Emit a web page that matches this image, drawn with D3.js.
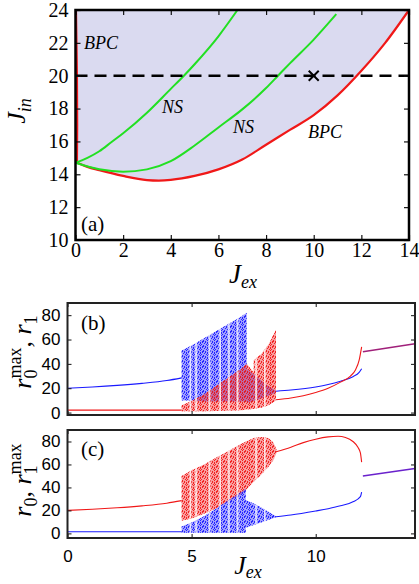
<!DOCTYPE html>
<html>
<head>
<meta charset="utf-8">
<script src="https://cdn.jsdelivr.net/npm/d3@7"></script>
<style>
  body { margin: 0; background: #fff; }
  svg { display: block; }
</style>
</head>
<body>
<svg id="fig" width="419" height="584"></svg>
<script>
// ---- panel (a): bifurcation curves in the (J_ex, J_in) plane
const bpcLeft = [[0.06, 14.7], [0.07, 17], [0.06, 20], [0.04, 22], [0.02, 24]];
const bpcLower = [[0.06, 14.7], [0.5, 14.45], [1, 14.25], [2, 13.9], [3, 13.65], [3.5, 13.62], [4, 13.66],
  [5, 13.9], [6, 14.3], [7, 14.9], [8, 15.8], [9, 16.7], [10, 17.6], [11, 18.8], [12, 20.3], [13, 22.0], [14, 24.0]];
const nsLeft = [[0, 14.7], [0.5, 15.0], [1, 15.4], [1.5, 15.95], [2, 16.5], [3, 17.75], [4, 19.2], [4.55, 20],
  [5, 20.7], [6, 22.4], [6.8, 24]];
const nsRight = [[0, 14.7], [1, 14.3], [2, 14.15], [3, 14.3], [4, 14.8], [5, 15.75], [6, 16.85], [7, 17.95],
  [8, 19.25], [8.5, 20], [9, 20.75], [10, 22.2], [10.95, 23.75]];
const cutLevel = 20;          // dashed line J_in = 20
const marker = [10, 20];      // the cross
const aTicksX = [0, 2, 4, 6, 8, 10, 12, 14];
const aTicksY = [10, 12, 14, 16, 18, 20, 22, 24];

// ---- panel (b): r0 max (blue), r1 (red) vs J_ex at J_in = 20
const bBlueLine1 = [[0, 20], [1, 21], [2, 22.3], [3, 24], [4, 26.3], [4.6, 28.5]];
const bRedLine1 = [[0, 2], [4.6, 2]];
const bBlueBand1 = [[4.6, 10, 51], [5.0, 10, 55], [5.5, 9, 61], [6.0, 9, 67], [6.5, 9, 73], [7.0, 9, 79], [7.22, 9, 82]];
const bRedBand1 = [[4.6, 1, 6], [5.0, 1, 9.5], [5.5, 1, 15], [6.0, 1.2, 22], [6.5, 1.5, 29], [7.0, 2, 36],
  [7.22, 2.5, 40], [7.5, 3, 33], [7.5, 3, 43], [7.8, 4, 48], [8.1, 6, 56], [8.4, 10, 68]];
const bBlueBand2 = [[7.22, 8, 36], [7.6, 10, 30], [8.0, 13, 23], [8.4, 16.5, 18]];
const bBlueLine2 = [[8.4, 17.5], [9, 18.5], [10, 21], [10.5, 23], [11, 25.8], [11.5, 29.5], [11.75, 33], [11.85, 36]];
const bRedLine2 = [[8.4, 10.5], [9, 12], [9.5, 13.8], [10, 16.5], [10.5, 20], [11, 25], [11.4, 30], [11.6, 35],
  [11.75, 43], [11.85, 54]];
const bMerged = [[11.9, 50], [14, 56.5]];

// ---- panel (c): r0 (red), r1 max (blue)
const cRedLine1 = [[0, 20], [1, 21], [2, 22.3], [3, 24], [4, 26.3], [4.6, 28.5]];
const cBlueLine1 = [[0, 1.5], [4.6, 1.5]];
const cRedBand = [[4.6, 11, 50], [5.0, 13, 55], [5.5, 17, 60], [6.0, 22, 66], [6.5, 28, 72], [7.0, 34, 78],
  [7.2, 38, 80], [7.5, 45, 83], [7.8, 51, 84], [8.1, 58, 83], [8.3, 64, 79], [8.42, 70, 73]];
const cBlueBand1 = [[4.6, 0.5, 6], [5.0, 0.5, 9.5], [5.5, 0.5, 15], [6.0, 0.5, 22], [6.5, 0.5, 29], [7.0, 0.5, 36], [7.18, 0.5, 39]];
const cBlueBand2 = [[7.18, 5, 29], [7.6, 8, 25], [8.0, 11, 20], [8.4, 14, 15]];
const cBlueLine2 = [[8.4, 14.5], [9, 16], [10, 19.5], [10.5, 21.5], [11, 24], [11.5, 27.5], [11.8, 32], [11.85, 36]];
const cRedLine2 = [[8.4, 71], [9, 75], [9.5, 79], [10, 82], [10.5, 84], [10.9, 84.5], [11.2, 83.5], [11.5, 80],
  [11.7, 75], [11.8, 70], [11.85, 62]];
const cMerged = [[11.9, 50], [14, 56.5]];

// periodic windows inside the chaotic region (thin gaps in the clouds)
const windows = [4.95, 5.18, 5.72, 6.15, 6.5, 6.85, 7.6, 7.95];

const rTicksX = [0, 5, 10];
const rTicksY = [0, 20, 40, 60, 80];

const RED = "#f01818", BLUE = "#1a1aff", GREEN = "#22e022";
const serif = "'Liberation Serif', 'Times New Roman', 'DejaVu Serif', serif";
const sans = "'Liberation Sans', Arial, sans-serif";

const svg = d3.select("#fig");
const defs = svg.append("defs");

// dotted texture used for the chaotic clouds
const dots = [[0, 0, 1, 2], [1, 3, 1, 1], [2, 1, 1, 2], [3, 4, 1, 1], [4, 0, 1, 1], [4, 2, 1, 2], [5, 4, 1, 1], [6, 1, 1, 2]];
function makePattern(id, color) {
  const p = defs.append("pattern").attr("id", id).attr("patternUnits", "userSpaceOnUse")
    .attr("width", 7).attr("height", 5);
  p.selectAll("rect").data(dots).enter().append("rect")
    .attr("x", d => d[0]).attr("y", d => d[1]).attr("width", d => d[2]).attr("height", d => d[3])
    .attr("fill", color);
}
makePattern("dotRed", RED);
makePattern("dotBlue", BLUE);

// inward ticks on four sides + frame
function frame(g, x, y, tx, ty, opt) {
  const [x0, x1] = x.range(), [y1, y0] = y.range();
  const ts = opt.tick;
  g.append("g").attr("transform", `translate(0,${y1})`)
    .call(d3.axisBottom(x).tickValues(tx).tickSize(-ts).tickPadding(opt.padX).tickFormat(opt.labelX ? d3.format("d") : ""))
    .call(a => a.select(".domain").remove());
  g.append("g").attr("transform", `translate(0,${y0})`)
    .call(d3.axisTop(x).tickValues(tx).tickSize(-ts).tickFormat(""))
    .call(a => a.select(".domain").remove());
  g.append("g").attr("transform", `translate(${x0},0)`)
    .call(d3.axisLeft(y).tickValues(ty).tickSize(-ts).tickPadding(opt.padY).tickFormat(d3.format("d")))
    .call(a => a.select(".domain").remove());
  g.append("g").attr("transform", `translate(${x1},0)`)
    .call(d3.axisRight(y).tickValues(ty).tickSize(-ts).tickFormat(""))
    .call(a => a.select(".domain").remove());
  g.selectAll(".tick line").attr("stroke", "#111").attr("stroke-width", opt.tickW);
  g.selectAll(".tick text").style("font-family", opt.font).attr("font-size", opt.fontSize).attr("fill", "#000");
  g.append("rect").attr("x", x0).attr("y", y0).attr("width", x1 - x0).attr("height", y1 - y0)
    .attr("fill", "none").attr("stroke", opt.frameColor).attr("stroke-width", opt.frameW);
}

// ================= panel (a)
const xa = d3.scaleLinear().domain([0, 14]).range([75.5, 409]);
const ya = d3.scaleLinear().domain([10, 24]).range([240, 10]);
const ga = svg.append("g");

// shaded region: right of the left BPC branch, above the lower BPC branch
const region = bpcLeft.concat([[14, 24]], bpcLower.slice().reverse());
ga.append("path")
  .attr("d", d3.line().x(d => xa(d[0])).y(d => ya(d[1]))(region) + "Z")
  .attr("fill", "#dadaf0");

const lineA = d3.line().x(d => xa(d[0])).y(d => ya(d[1])).curve(d3.curveMonotoneX);
const lineAy = d3.line().x(d => xa(d[0])).y(d => ya(d[1]));
ga.append("path").attr("d", lineAy(bpcLeft)).attr("fill", "none").attr("stroke", RED).attr("stroke-width", 2.2);
ga.append("path").attr("d", lineA(bpcLower)).attr("fill", "none").attr("stroke", RED).attr("stroke-width", 2.2);
ga.append("path").attr("d", lineA(nsLeft)).attr("fill", "none").attr("stroke", GREEN).attr("stroke-width", 2);
ga.append("path").attr("d", lineA(nsRight)).attr("fill", "none").attr("stroke", GREEN).attr("stroke-width", 2);

ga.append("line").attr("x1", xa(0)).attr("x2", xa(14)).attr("y1", ya(cutLevel)).attr("y2", ya(cutLevel))
  .attr("stroke", "#000").attr("stroke-width", 2.5).attr("stroke-dasharray", "12,7");
ga.append("path").attr("transform", `translate(${xa(marker[0])},${ya(marker[1])})`)
  .attr("d", "M-5,-5L5,5M-5,5L5,-5").attr("stroke", "#000").attr("stroke-width", 2);

frame(ga, xa, ya, aTicksX, aTicksY, { tick: 5, padX: 3, padY: 7, labelX: true, font: serif, fontSize: 20,
  tickW: 1.2, frameColor: "#000", frameW: 2.5 });

const labA = [["BPC", 84, 49], ["NS", 162, 113], ["NS", 233, 133], ["BPC", 308, 138]];
ga.selectAll(".lab").data(labA).enter().append("text")
  .attr("x", d => d[1]).attr("y", d => d[2]).text(d => d[0])
  .style("font-family", serif).attr("font-style", "italic").attr("font-size", 18);
ga.append("text").attr("x", 81).attr("y", 231).text("(a)").style("font-family", serif).attr("font-size", 21);

// J_in label
const jin = ga.append("text").attr("transform", "translate(25,111) rotate(-90)").attr("text-anchor", "middle")
  .style("font-family", serif).attr("font-style", "italic");
jin.append("tspan").attr("font-size", 26).text("J");
jin.append("tspan").attr("font-size", 18).attr("dy", 6).text("in");
// J_ex label
const jexA = ga.append("text").attr("x", 243).attr("y", 283).attr("text-anchor", "middle")
  .style("font-family", serif).attr("font-style", "italic");
jexA.append("tspan").attr("font-size", 27).text("J");
jexA.append("tspan").attr("font-size", 18).attr("dy", 5).text("ex");

// ================= panels (b) and (c)
const xr = d3.scaleLinear().domain([0, 14]).range([67.5, 415]);
const yb = d3.scaleLinear().domain([-2, 90]).range([415, 303]);
const yc = d3.scaleLinear().domain([-4, 90]).range([538, 430]);

let clipN = 0;
function drawBand(g, rows, y, color, pat) {
  const area = d3.area().x(d => xr(d[0])).y0(d => y(d[1])).y1(d => y(d[2]));
  g.append("path").attr("d", area(rows)).attr("fill", color).attr("fill-opacity", 0.42);
  g.append("path").attr("d", area(rows)).attr("fill", `url(#${pat})`).attr("opacity", 0.9);
  // thin gaps at the periodic windows, clipped to the band
  const id = "band" + (clipN++);
  defs.append("clipPath").attr("id", id).append("path").attr("d", area(rows));
  g.append("g").attr("clip-path", `url(#${id})`)
    .selectAll("line").data(windows).enter().append("line")
    .attr("x1", d => xr(d)).attr("x2", d => xr(d))
    .attr("y1", y.range()[0]).attr("y2", y.range()[1])
    .attr("stroke", "#fff").attr("stroke-width", 1.8).attr("stroke-opacity", 0.75);
}
function drawLine(g, pts, y, color, w) {
  const line = d3.line().x(d => xr(d[0])).y(d => y(d[1])).curve(d3.curveMonotoneX);
  g.append("path").attr("d", line(pts)).attr("fill", "none").attr("stroke", color).attr("stroke-width", w || 1.1);
}

const gb = svg.append("g");
drawLine(gb, bBlueLine1, yb, BLUE);
drawLine(gb, bRedLine1, yb, RED);
drawBand(gb, bBlueBand1, yb, BLUE, "dotBlue");
drawBand(gb, bBlueBand2, yb, BLUE, "dotBlue");
drawBand(gb, bRedBand1, yb, RED, "dotRed");
drawLine(gb, bBlueLine2, yb, BLUE);
drawLine(gb, bRedLine2, yb, RED);
drawLine(gb, bMerged, yb, "#a0207a", 1.5);
frame(gb, xr, yb, rTicksX, rTicksY, { tick: 4, padX: 12, padY: 7, labelX: false, font: sans, fontSize: 17,
  tickW: 1, frameColor: "#222", frameW: 2 });
gb.append("text").attr("x", 81).attr("y", 330).text("(b)").style("font-family", serif).attr("font-size", 21);

const yl = gb.append("text").attr("transform", "translate(31,352) rotate(-90)").attr("text-anchor", "middle")
  .style("font-family", serif);
yl.append("tspan").attr("font-size", 26).attr("font-style", "italic").text("r");
yl.append("tspan").attr("font-size", 18).attr("dy", 6).text("0");
yl.append("tspan").attr("font-size", 18).attr("dx", -9).attr("dy", -16).text("max");
yl.append("tspan").attr("font-size", 26).attr("dy", 10).text(", ");
yl.append("tspan").attr("font-size", 26).attr("font-style", "italic").text("r");
yl.append("tspan").attr("font-size", 18).attr("dy", 6).text("1");

const gc = svg.append("g");
drawLine(gc, cRedLine1, yc, RED);
drawLine(gc, cBlueLine1, yc, BLUE);
drawBand(gc, cRedBand, yc, RED, "dotRed");
drawBand(gc, cBlueBand1, yc, BLUE, "dotBlue");
drawBand(gc, cBlueBand2, yc, BLUE, "dotBlue");
drawLine(gc, cBlueLine2, yc, BLUE);
drawLine(gc, cRedLine2, yc, RED);
drawLine(gc, cMerged, yc, "#6a22cc", 1.5);
frame(gc, xr, yc, rTicksX, rTicksY, { tick: 4, padX: 12, padY: 7, labelX: true, font: sans, fontSize: 17,
  tickW: 1, frameColor: "#222", frameW: 2 });
gc.append("text").attr("x", 81).attr("y", 456).text("(c)").style("font-family", serif).attr("font-size", 21);

const yl2 = gc.append("text").attr("transform", "translate(31,480) rotate(-90)").attr("text-anchor", "middle")
  .style("font-family", serif);
yl2.append("tspan").attr("font-size", 26).attr("font-style", "italic").text("r");
yl2.append("tspan").attr("font-size", 18).attr("dy", 6).text("0");
yl2.append("tspan").attr("font-size", 26).attr("dy", -6).text(", ");
yl2.append("tspan").attr("font-size", 26).attr("font-style", "italic").text("r");
yl2.append("tspan").attr("font-size", 18).attr("dy", 6).text("1");
yl2.append("tspan").attr("font-size", 18).attr("dx", -9).attr("dy", -16).text("max");

const jex = gc.append("text").attr("x", 248).attr("y", 574).attr("text-anchor", "middle")
  .style("font-family", serif).attr("font-style", "italic");
jex.append("tspan").attr("font-size", 26).text("J");
jex.append("tspan").attr("font-size", 18).attr("dy", 4).text("ex");
</script>
</body>
</html>
